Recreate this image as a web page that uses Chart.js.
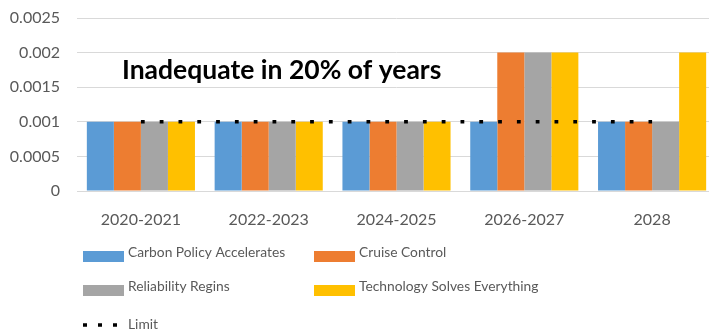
<!DOCTYPE html>
<html>
<head>
<meta charset="utf-8">
<script src="https://cdn.jsdelivr.net/npm/chart.js@4.4.1/dist/chart.umd.min.js"></script>
<style>
  html, body { margin: 0; padding: 0; background: #fff; overflow: hidden; }
  #wrap { position: relative; width: 718px; height: 335px; }
</style>
</head>
<body>
<div id="wrap"><canvas id="myChart"></canvas></div>
<script>
// Data
const categories = ['2020-2021', '2022-2023', '2024-2025', '2026-2027', '2028'];
const carbonPolicy = [0.001, 0.001, 0.001, 0.001, 0.001];
const cruiseControl = [0.001, 0.001, 0.001, 0.002, 0.001];
const reliabilityRegins = [0.001, 0.001, 0.001, 0.002, 0.001];
const techSolves = [0.001, 0.001, 0.001, 0.002, 0.002];
const limitValues = [0.001, 0.001, 0.001, 0.001, 0.001];
const yTicks = [0, 0.0005, 0.001, 0.0015, 0.002, 0.0025];
const noteText = 'Inadequate in 20% of years';

const FONT = 'Lato';
const GREY_TEXT = '#595959';
const GRID = '#d9d9d9';

// big bold note inside the plot
const notePlugin = {
  id: 'note',
  afterDatasetsDraw(chart) {
    const ctx = chart.ctx;
    ctx.save();
    ctx.font = `bold 26.5px ${FONT}`;
    ctx.fillStyle = '#000';
    ctx.textAlign = 'left';
    ctx.textBaseline = 'alphabetic';
    ctx.fillText(noteText, 122, 79);
    ctx.restore();
  }
};

// two-column legend under the axis, like the Excel one
const legendSpots = [
  { x: 83, y: 251 },
  { x: 314, y: 251 },
  { x: 83, y: 285 },
  { x: 314, y: 285 },
  { x: 83, y: 319 }
];

const legendPlugin = {
  id: 'sideLegend',
  afterDraw(chart) {
    const ctx = chart.ctx;
    ctx.save();
    ctx.font = `13.8px ${FONT}`;
    ctx.textBaseline = 'alphabetic';
    ctx.textAlign = 'left';
    chart.data.datasets.forEach((ds, i) => {
      const p = legendSpots[i];
      if (ds.type === 'line') {
        ctx.strokeStyle = ds.borderColor;
        ctx.lineWidth = ds.borderWidth;
        ctx.setLineDash([4, 11]);
        ctx.beginPath();
        ctx.moveTo(p.x, p.y + 6);
        ctx.lineTo(p.x + 41, p.y + 6);
        ctx.stroke();
        ctx.setLineDash([]);
        ctx.fillStyle = GREY_TEXT;
        ctx.fillText(ds.label, p.x + 45, p.y + 10);
      } else {
        ctx.fillStyle = ds.backgroundColor;
        ctx.fillRect(p.x, p.y, 41, 11);
        ctx.fillStyle = GREY_TEXT;
        ctx.fillText(ds.label, p.x + 45, p.y + 6);
      }
    });
    ctx.restore();
  }
};

const ctx = document.getElementById('myChart');

new Chart(ctx, {
  type: 'bar',
  data: {
    labels: categories,
    datasets: [
      { label: 'Carbon Policy Accelerates', data: carbonPolicy, backgroundColor: '#5b9bd5', order: 1 },
      { label: 'Cruise Control', data: cruiseControl, backgroundColor: '#ed7d31', order: 1 },
      { label: 'Reliability Regins', data: reliabilityRegins, backgroundColor: '#a5a5a5', order: 1 },
      { label: 'Technology Solves Everything', data: techSolves, backgroundColor: '#ffc000', order: 1 },
      {
        type: 'line',
        label: 'Limit',
        data: limitValues,
        borderColor: '#000',
        borderWidth: 3.5,
        borderDash: [3.8, 15],
        borderCapStyle: 'butt',
        pointRadius: 0,
        fill: false,
        order: 0
      }
    ]
  },
  options: {
    responsive: true,
    maintainAspectRatio: false,
    animation: false,
    devicePixelRatio: 1,
    layout: { padding: { top: 18, right: 2, bottom: 0, left: 0 } },
    datasets: {
      bar: { categoryPercentage: 0.846, barPercentage: 1.0 }
    },
    plugins: {
      legend: { display: false },
      tooltip: { enabled: false }
    },
    scales: {
      x: {
        grid: { display: false },
        border: { display: true, color: GRID },
        ticks: { color: GREY_TEXT, font: { family: FONT, size: 16 }, padding: 11 },
        afterFit(scale) {
          scale.height = 144;
          scale.paddingLeft = 0;
          scale.paddingRight = 0;
        }
      },
      y: {
        min: 0,
        max: 0.0025,
        grid: { color: GRID, drawTicks: false },
        border: { display: false },
        ticks: {
          color: GREY_TEXT,
          font: { family: FONT, size: 16 },
          padding: 17,
          callback: (v) => String(+Number(v).toFixed(4))
        },
        afterBuildTicks(scale) { scale.ticks = yTicks.map(v => ({ value: v })); },
        afterFit(scale) {
          scale.width = 77;
          scale.paddingTop = 0;
          scale.paddingBottom = 0;
        }
      }
    }
  },
  plugins: [notePlugin, legendPlugin]
});
</script>
</body>
</html>
